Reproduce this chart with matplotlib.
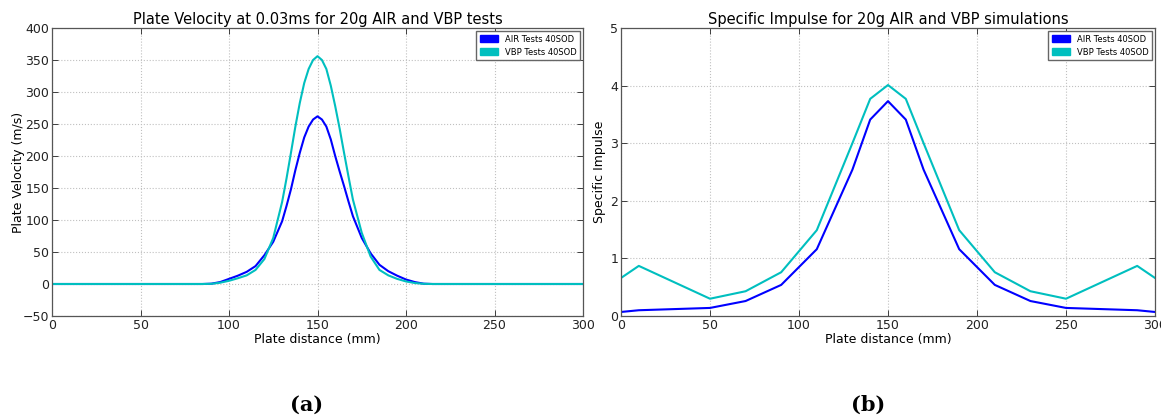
import matplotlib
matplotlib.use("Agg")
import matplotlib.pyplot as plt
from matplotlib.patches import Patch

# (a) plate velocity at 0.03 ms
vel_x = [0, 85, 90, 95, 100, 105, 110, 115, 120, 125, 130, 132.5, 135, 137.5, 140,
         142.5, 145, 147.5, 150, 152.5, 155, 157.5, 160, 162.5, 165, 167.5, 170,
         175, 180, 185, 190, 195, 200, 205, 210, 215, 300]
vel_air = [0, 0, 0.5, 3, 8, 13, 19, 28, 45, 66, 98, 122, 148, 178, 205,
           229, 246, 257, 262, 257, 246, 226, 200, 176, 153, 129, 106,
           72, 48, 30, 20, 13, 7, 3, 0.5, 0, 0]
vel_vbp = [0, 0, 0.3, 2, 5, 9, 13.5, 22, 39, 72, 128, 165, 205, 246, 283,
           314, 336, 350, 356, 350, 336, 310, 278, 243, 205, 168, 132,
           80, 43, 22, 13.5, 8, 4, 1.5, 0.3, 0, 0]

# (b) specific impulse
imp_x = [0, 10, 50, 70, 90, 110, 130, 140, 150, 160, 170, 190, 210, 230, 250, 290, 300]
imp_air = [0.07, 0.10, 0.14, 0.26, 0.54, 1.16, 2.54, 3.41, 3.73, 3.41, 2.54,
           1.16, 0.54, 0.26, 0.14, 0.10, 0.07]
imp_vbp = [0.66, 0.87, 0.30, 0.43, 0.76, 1.49, 3.00, 3.77, 4.01, 3.77, 3.00,
           1.49, 0.76, 0.43, 0.30, 0.87, 0.66]

labels = ["AIR Tests 40SOD", "VBP Tests 40SOD"]
colors = ["#0000ff", "#00bfbf"]

fig = plt.figure(figsize=(11.61, 4.17), dpi=100)
ax1 = fig.add_axes([52 / 1161, 1 - 316 / 417, 531 / 1161, 288 / 417])
ax2 = fig.add_axes([621 / 1161, 1 - 316 / 417, 534 / 1161, 288 / 417])


def style(ax):
    ax.grid(True, color="#c0c0c0", linestyle=":", linewidth=0.8)
    ax.tick_params(direction="in", top=True, right=True, labelsize=9,
                   length=4, width=0.6, colors="#222222", pad=2)
    for s in ax.spines.values():
        s.set_color("#555555")
        s.set_linewidth(0.9)
    ax.legend(handles=[Patch(color=c, label=l) for c, l in zip(colors, labels)],
              loc="upper right", fontsize=6, fancybox=False, edgecolor="#666666",
              framealpha=1, handlelength=2.2, handleheight=0.9,
              borderaxespad=0.4)


ax1.plot(vel_x, vel_air, color=colors[0], lw=1.5)
ax1.plot(vel_x, vel_vbp, color=colors[1], lw=1.5)
ax1.set_xlim(0, 300)
ax1.set_ylim(-50, 400)
ax1.set_xticks(range(0, 301, 50))
ax1.set_yticks(range(-50, 401, 50))
ax1.set_title("Plate Velocity at 0.03ms for 20g AIR and VBP tests", fontsize=10.5, pad=3)
ax1.set_xlabel("Plate distance (mm)", fontsize=9, labelpad=1)
ax1.set_ylabel("Plate Velocity (m/s)", fontsize=9, labelpad=-2)
style(ax1)

ax2.plot(imp_x, imp_air, color=colors[0], lw=1.5)
ax2.plot(imp_x, imp_vbp, color=colors[1], lw=1.5)
ax2.set_xlim(0, 300)
ax2.set_ylim(0, 5)
ax2.set_xticks(range(0, 301, 50))
ax2.set_yticks(range(0, 6))
ax2.set_title("Specific Impulse for 20g AIR and VBP simulations", fontsize=10.5, pad=3)
ax2.set_xlabel("Plate distance (mm)", fontsize=9, labelpad=1)
ax2.set_ylabel("Specific Impulse", fontsize=9, labelpad=3)
style(ax2)

fig.text(307 / 1161, 1 - 405 / 417, "(a)", ha="center", va="center",
         fontsize=15, fontweight="bold", family="DejaVu Serif")
fig.text(868 / 1161, 1 - 405 / 417, "(b)", ha="center", va="center",
         fontsize=15, fontweight="bold", family="DejaVu Serif")

fig.savefig("out.png", dpi=100)
